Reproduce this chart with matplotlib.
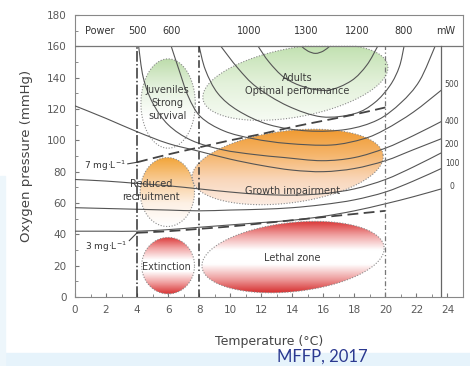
import numpy as np
import matplotlib
matplotlib.use('Agg')
import matplotlib.pyplot as plt
from matplotlib.patches import Polygon, Rectangle, PathPatch
from matplotlib.path import Path
from matplotlib.colors import LinearSegmentedColormap

# ---- isolines (temperature degC, oxygen mmHg) ----
p1300_t = [14.6, 15.0, 15.5, 16.0, 16.4]
p1300_o2 = [160, 157, 155.5, 157, 160]
p1200_t = [11.8, 12.5, 13.5, 14.8, 16.3, 17.8, 18.8, 19.5]
p1200_o2 = [160, 150, 140, 134, 132, 138, 148, 160]
p1000_t = [9.4, 10.5, 11.7, 13.7, 15.9, 18.0, 19.3, 20.3, 20.9, 21.2]
p1000_o2 = [160, 146, 134, 122, 115, 117, 124, 135, 147, 160]
p800_t = [8.0, 8.4, 9.2, 10.5, 12.5, 15.0, 17.5, 19.5, 21.0, 22.2, 23.2]
p800_o2 = [160, 145, 130, 119, 110, 106, 107, 113, 124, 138, 160]
p600_t = [6.2, 6.7, 7.3, 8.1, 9.6, 11.5, 13.7, 16.5, 18.6, 20.0, 21.8, 23.6]
p600_o2 = [160, 145, 128, 115, 106, 101, 98, 97, 101, 107, 118, 132]
p500_t = [4.1, 4.4, 5.0, 6.0, 7.5, 9.5, 11.5, 13.5, 15.9, 18.0, 20.0, 21.8, 23.6]
p500_o2 = [160, 140, 124, 110, 100, 94, 91, 89, 87, 89, 95, 103, 112]
low_t = [0, 2, 4, 6, 8, 10, 12, 14, 16, 18, 20, 21.8, 23.6]
low_a_o2 = [122, 114, 105.5, 98, 93, 88, 84, 81, 80, 82, 87, 94, 101]
low_b_o2 = [75, 74, 72.5, 71, 69, 67, 65.5, 65, 66, 69, 75, 83, 92]
low_c_o2 = [57, 56.5, 56, 55.5, 55, 55.5, 56, 57, 59, 62, 67, 74, 82]
low_d_o2 = [42, 42, 42, 43, 44.5, 46, 47.5, 49, 51.5, 55, 59.5, 64, 69]

# constant concentration lines
conc_t = [4, 6, 8, 10, 12, 14, 16, 18, 20]
conc7_o2 = [86, 91, 95.5, 100, 104, 108.5, 112.5, 116.5, 121]
conc3_o2 = [41, 42, 43.5, 45, 47, 49, 51, 53, 55]

# top power labels and right-hand labels
power_labels = ['Power', '500', '600', '1000', '1300', '1200', '800', 'mW']
power_x = [1.6, 4.0, 6.2, 11.2, 14.9, 18.2, 21.2, 23.9]
right_labels = ['500', '400', '200', '100', '0']
right_y = [135.5, 112, 97.5, 85, 70.5]

# zones: centre, size (T units, mmHg units), tilt on screen, colours bottom->top
zone_cx = [6.0, 14.2, 5.95, 13.7, 6.0, 14.05]
zone_cy = [123.5, 137, 67, 83, 20, 25.5]
zone_w = [3.5, 12.1, 3.5, 12.4, 3.4, 11.8]
zone_h = [57, 44, 44, 46, 36, 44]
zone_tilt = [0, 10.5, 0, 7.2, 0, 6.3]
zone_colors = [
    ['#ffffff', '#ffffff', '#e6f2df', '#bcdcaa'],
    ['#f6fbf3', '#e3f1da', '#c2e1b1'],
    ['#ffffff', '#fdf0e4', '#f8cb95', '#f2a437'],
    ['#fcece3', '#f9d7bb', '#f5b56b', '#f09a30'],
    ['#d93333', '#f0a0a0', '#ffffff', '#ffffff', '#f2a8a8', '#dc3a3a'],
    ['#d62e2e', '#eea0a0', '#ffffff', '#ffffff', '#f0a4a4', '#da3636'],
]
zone_text = ['Juveniles\nStrong\nsurvival', 'Adults\nOptimal performance',
             'Reduced\nrecruitment', 'Growth impairment', 'Extinction', 'Lethal zone']
text_x = [5.95, 14.3, 4.9, 14.0, 5.9, 14.0]
text_y = [124, 135.5, 68, 67.5, 19, 25]


def smooth_line(ax, t, o, **kw):
    # draw a smooth curve through the read points (Catmull-Rom as Bezier segments)
    p = np.column_stack([t, o]).astype(float)
    n = len(p)
    verts = [p[0]]
    codes = [Path.MOVETO]
    for i in range(n - 1):
        p_prev = p[i - 1] if i > 0 else p[i]
        p_next = p[i + 2] if i + 2 < n else p[i + 1]
        c1 = p[i] + (p[i + 1] - p_prev) / 6.0
        c2 = p[i + 1] - (p_next - p[i]) / 6.0
        verts += [c1, c2, p[i + 1]]
        codes += [Path.CURVE4] * 3
    ax.add_patch(PathPatch(Path(verts, codes), fill=False, **kw))


W, H = 470, 366
fig = plt.figure(figsize=(W / 100, H / 100), dpi=100)
fig.patch.set_facecolor('white')
fig.patches.append(Rectangle((0, 0), 1, 13 / H, transform=fig.transFigure,
                             color='#e6f3fb', zorder=0))
fig.patches.append(Rectangle((0, 0), 5 / W, 190 / H, transform=fig.transFigure,
                             color='#edf6fb', zorder=0))

ax_l, ax_b, ax_w, ax_h = 75 / W, 69 / H, 388 / W, 282 / H
ax = fig.add_axes([ax_l, ax_b, ax_w, ax_h])
ax.set_xlim(0, 25)
ax.set_ylim(0, 180)
sx = ax_w * W / 25.0
sy = ax_h * H / 180.0

# gradient ellipses
tt = np.linspace(0, 2 * np.pi, 200)
for i in range(len(zone_cx)):
    a = zone_w[i] * sx / 2
    b = zone_h[i] * sy / 2
    th = np.radians(zone_tilt[i])
    u = a * np.cos(tt)
    v = b * np.sin(tt)
    px = zone_cx[i] + (u * np.cos(th) - v * np.sin(th)) / sx
    py = zone_cy[i] + (u * np.sin(th) + v * np.cos(th)) / sy
    py = np.minimum(py, 160)
    poly = Polygon(np.column_stack([px, py]), closed=True, facecolor='none',
                   edgecolor='#8a8a8a', lw=0.8, ls=(0, (1, 1.5)), zorder=3)
    ax.add_patch(poly)
    cmap = LinearSegmentedColormap.from_list('z%d' % i, zone_colors[i])
    grad = np.linspace(0, 1, 256).reshape(-1, 1)
    im = ax.imshow(grad, cmap=cmap, origin='lower', aspect='auto',
                   extent=[px.min(), px.max(), py.min(), py.max()], zorder=1)
    im.set_clip_path(poly)

ax.set_xlim(0, 25)
ax.set_ylim(0, 180)

line_kw = dict(edgecolor='#555555', lw=0.8, zorder=4)
for t, o in [(p1300_t, p1300_o2), (p1200_t, p1200_o2), (p1000_t, p1000_o2),
             (p800_t, p800_o2), (p600_t, p600_o2), (p500_t, p500_o2),
             (low_t, low_a_o2), (low_t, low_b_o2), (low_t, low_c_o2), (low_t, low_d_o2)]:
    smooth_line(ax, t, o, **line_kw)

dash_kw = dict(edgecolor='#444444', lw=1.3, ls=(0, (6, 3)), zorder=5)
smooth_line(ax, conc_t, conc7_o2, **dash_kw)
smooth_line(ax, conc_t, conc3_o2, **dash_kw)
ax.plot([3.4, 4], [85, 86], color='#444444', lw=0.8, zorder=5)
ax.plot([3.5, 4], [36, 41], color='#444444', lw=0.8, zorder=5)
ax.text(1.9, 84, '7 mg·L$^{-1}$', fontsize=6.5, color='#333333', ha='center', va='center', zorder=6)
ax.text(2.0, 32, '3 mg·L$^{-1}$', fontsize=6.5, color='#333333', ha='center', va='center', zorder=6)

# frame lines
ax.axhline(160, color='#777777', lw=0.9, zorder=5)
ax.plot([4, 4], [0, 160], color='#333333', lw=1.1, ls=(0, (7, 1.5, 1, 1.5)), zorder=5)
ax.plot([8, 8], [0, 160], color='#333333', lw=1.1, ls=(0, (5, 2, 1, 2)), zorder=5)
ax.plot([20, 20], [0, 160], color='#777777', lw=0.9, ls=(0, (4, 2, 1, 2)), zorder=5)
ax.plot([23.6, 23.6], [0, 160], color='#666666', lw=0.9, zorder=5)

for lab, x in zip(power_labels, power_x):
    ax.text(x, 170, lab, fontsize=7, color='#333333', ha='center', va='center')
for lab, y in zip(right_labels, right_y):
    ax.text(24.3, y, lab, fontsize=5.5, color='#444444', ha='center', va='center')

for s, x, y in zip(zone_text, text_x, text_y):
    ax.text(x, y, s, fontsize=7, color='#3c3c3c', ha='center', va='center',
            linespacing=1.35, zorder=7)

ax.set_xticks(np.arange(0, 25, 2))
ax.set_xticks(np.arange(0, 25, 1), minor=True)
ax.set_yticks(np.arange(0, 181, 20))
ax.set_yticks(np.arange(0, 181, 10), minor=True)
ax.tick_params(which='both', direction='in', colors='#777777', labelcolor='#5a5a5a',
               labelsize=7.5, pad=6)
ax.tick_params(which='major', length=3)
ax.tick_params(which='minor', length=2)
for sp in ax.spines.values():
    sp.set_color('#888888')
    sp.set_linewidth(0.8)

ax.set_xlabel('Temperature (°C)', fontsize=9, color='#444444', labelpad=14)
ax.set_ylabel('Oxygen pressure (mmHg)', fontsize=9.5, color='#444444', labelpad=10)

fig.text(322 / W, 9 / H, 'MFFP, 2017', fontsize=12, color='#2b3990',
         family=['Lato', 'DejaVu Sans'], ha='center', va='center')

fig.savefig('out.png', dpi=100)
